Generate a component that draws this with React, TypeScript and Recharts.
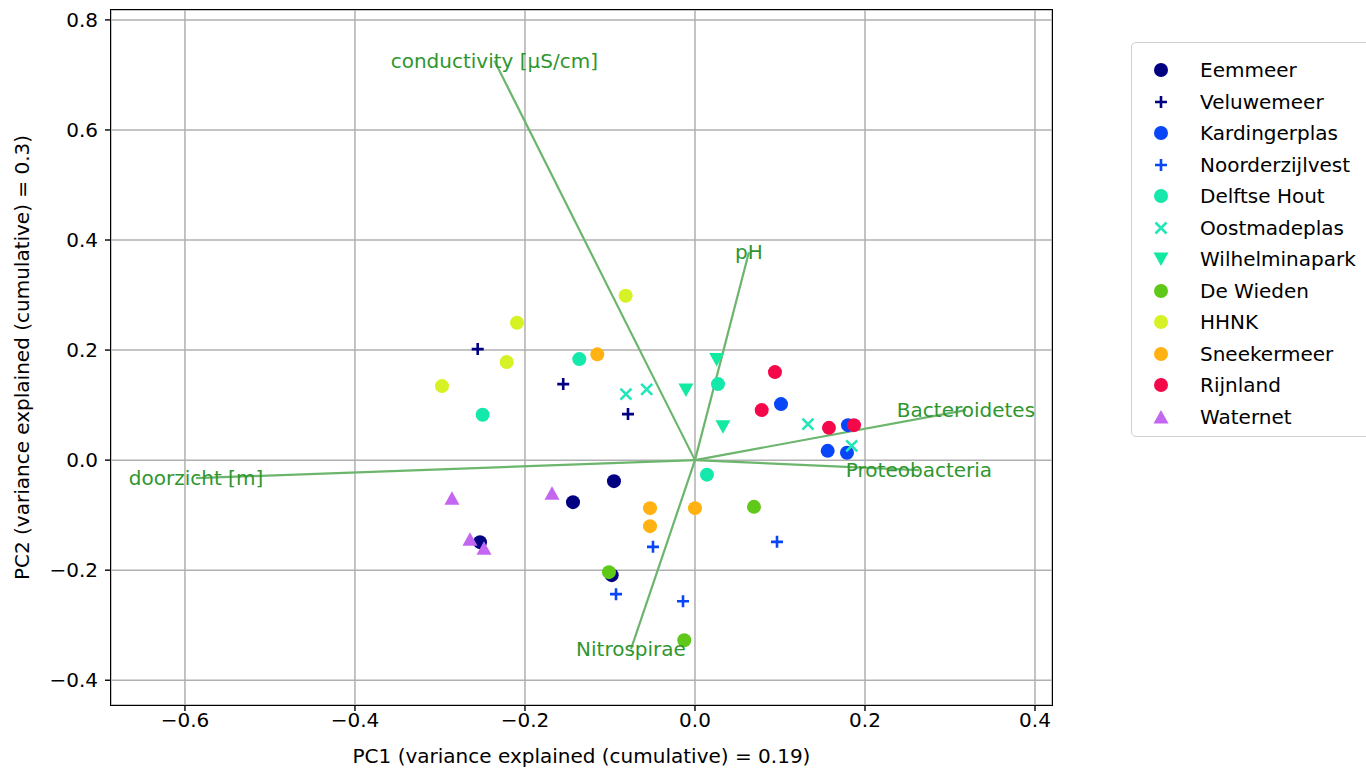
import React from "react";
import {
  ScatterChart,
  Scatter,
  XAxis,
  YAxis,
  CartesianGrid,
  ReferenceLine,
  ReferenceDot,
} from "recharts";

// sample scores per lake [PC1, PC2]
const eemmeer = [[-0.1435, -0.0764], [-0.0953, -0.0382], [-0.2529, -0.1491], [-0.098, -0.209]];
const veluwemeer = [[-0.2556, 0.2018], [-0.155, 0.1382], [-0.0788, 0.0836]];
const kardingerplas = [[0.1012, 0.1018], [0.18, 0.0636], [0.1561, 0.0169], [0.1788, 0.0133]];
const noorderzijlvest = [[-0.0494, -0.1576], [-0.0929, -0.2436], [-0.0141, -0.2564], [0.0965, -0.1485]];
const delftseHout = [[-0.1361, 0.1836], [-0.2498, 0.0824], [0.0271, 0.1382], [0.0141, -0.0264]];
const oostmadeplas = [[-0.0812, 0.12], [-0.0568, 0.1285], [0.1329, 0.0655], [0.1844, 0.026]];
const wilhelminapark = [[-0.0106, 0.1273], [0.0255, 0.1827], [0.0329, 0.0605]];
const deWieden = [[0.0694, -0.0849], [-0.1012, -0.2036], [-0.0126, -0.3273]];
const hhnk = [[-0.0815, 0.2987], [-0.2094, 0.2496], [-0.2215, 0.1782], [-0.2976, 0.1345]];
const sneekermeer = [[-0.1149, 0.1922], [-0.0529, -0.0873], [-0.0529, -0.12], [0.0, -0.0873]];
const rijnland = [[0.0941, 0.16], [0.0785, 0.0909], [0.1576, 0.0587], [0.1871, 0.0636]];
const waternet = [[-0.2859, -0.0691], [-0.1682, -0.06], [-0.2647, -0.1436], [-0.2482, -0.16]];

// loading vectors
const vectorNames = ["conductivity [µS/cm]", "pH", "Bacteroidetes", "Proteobacteria", "doorzicht [m]", "Nitrospirae"];
const vectorX = [-0.236, 0.0635, 0.3188, 0.2635, -0.587, -0.0753];
const vectorY = [0.726, 0.378, 0.0909, -0.0182, -0.0327, -0.3436];

const xTicks = [-0.6, -0.4, -0.2, 0.0, 0.2, 0.4];
const yTicks = [-0.4, -0.2, 0.0, 0.2, 0.4, 0.6, 0.8];

const groups = [
  { name: "Eemmeer", pts: eemmeer, color: "#000080", kind: "o" },
  { name: "Veluwemeer", pts: veluwemeer, color: "#000080", kind: "+" },
  { name: "Kardingerplas", pts: kardingerplas, color: "#0846f8", kind: "o" },
  { name: "Noorderzijlvest", pts: noorderzijlvest, color: "#0846f8", kind: "+" },
  { name: "Delftse Hout", pts: delftseHout, color: "#14e8aa", kind: "o" },
  { name: "Oostmadeplas", pts: oostmadeplas, color: "#22e6b8", kind: "x" },
  { name: "Wilhelminapark", pts: wilhelminapark, color: "#12eaa0", kind: "v" },
  { name: "De Wieden", pts: deWieden, color: "#60c818", kind: "o" },
  { name: "HHNK", pts: hhnk, color: "#d6f224", kind: "o" },
  { name: "Sneekermeer", pts: sneekermeer, color: "#ffb212", kind: "o" },
  { name: "Rijnland", pts: rijnland, color: "#f5084a", kind: "o" },
  { name: "Waternet", pts: waternet, color: "#c467f0", kind: "^" },
];

const GREEN_LINE = "#6cb56c";
const GREEN_TEXT = "#2f962f";

function drawMarker(kind: string, color: string, cx: number, cy: number) {
  if (kind === "o") return <circle cx={cx} cy={cy} r={7} fill={color} />;
  if (kind === "+")
    return (
      <path
        d={`M${cx - 6},${cy}H${cx + 6}M${cx},${cy - 6}V${cy + 6}`}
        stroke={color}
        strokeWidth={2.6}
        fill="none"
      />
    );
  if (kind === "x")
    return (
      <path
        d={`M${cx - 5.5},${cy - 5.5}L${cx + 5.5},${cy + 5.5}M${cx - 5.5},${cy + 5.5}L${cx + 5.5},${cy - 5.5}`}
        stroke={color}
        strokeWidth={2.6}
        fill="none"
      />
    );
  if (kind === "v")
    return <polygon points={`${cx - 7.5},${cy - 6.5} ${cx + 7.5},${cy - 6.5} ${cx},${cy + 7}`} fill={color} />;
  return <polygon points={`${cx - 7.5},${cy + 6.5} ${cx + 7.5},${cy + 6.5} ${cx},${cy - 7}`} fill={color} />;
}

const fmt = (v: number) => v.toFixed(1).replace("-", "\u2212");

export default function App() {
  return (
    <div
      style={{
        position: "absolute",
        left: 0,
        top: 0,
        width: 1366,
        height: 769,
        overflow: "hidden",
        background: "white",
        fontFamily: "'DejaVu Sans', sans-serif",
      }}
    >
      <ScatterChart width={1366} height={769} margin={{ top: 10, right: 314, left: 11, bottom: 4 }}>
        <CartesianGrid stroke="#b0b0b0" strokeWidth={1.5} />
        <XAxis
          type="number"
          dataKey="x"
          domain={[-0.687, 0.42]}
          allowDataOverflow
          ticks={xTicks}
          tickFormatter={fmt}
          height={60}
          axisLine={false}
          tickSize={6}
          tickLine={{ stroke: "#000", strokeWidth: 1.4 }}
          tick={{ fill: "#000", fontSize: 20 }}
          label={{ value: "PC1 (variance explained (cumulative) = 0.19)", position: "insideBottom", offset: 2, fill: "#000", fontSize: 20 }}
        />
        <YAxis
          type="number"
          dataKey="y"
          domain={[-0.445, 0.818]}
          allowDataOverflow
          ticks={yTicks}
          tickFormatter={fmt}
          width={100}
          axisLine={false}
          tickSize={6}
          tickMargin={7}
          tickLine={{ stroke: "#000", strokeWidth: 1.4 }}
          tick={{ fill: "#000", fontSize: 20 }}
          label={{
            value: "PC2 (variance explained (cumulative) = 0.3)",
            angle: -90,
            position: "insideLeft",
            offset: 11,
            fill: "#000",
            fontSize: 20,
            style: { textAnchor: "middle" },
          }}
        />
        {groups.map((g) => (
          <Scatter
            key={g.name}
            name={g.name}
            data={g.pts.map(([x, y]) => ({ x, y }))}
            isAnimationActive={false}
            shape={(p: any) => drawMarker(g.kind, g.color, p.cx, p.cy)}
          />
        ))}
        {vectorNames.map((n, i) => (
          <ReferenceLine
            key={"l" + n}
            segment={[
              { x: 0, y: 0 },
              { x: vectorX[i], y: vectorY[i] },
            ]}
            stroke={GREEN_LINE}
            strokeWidth={2.2}
          />
        ))}
        {vectorNames.map((n, i) => (
          <ReferenceDot
            key={"t" + n}
            x={vectorX[i]}
            y={vectorY[i]}
            r={1}
            shape={(p: any) => (
              <text
                x={p.cx}
                y={p.cy}
                textAnchor="middle"
                dominantBaseline="central"
                fill={GREEN_TEXT}
                fontSize={20}
                fontFamily="'DejaVu Sans', sans-serif"
              >
                {n}
              </text>
            )}
          />
        ))}
      </ScatterChart>
      <div
        style={{
          position: "absolute",
          left: 110,
          top: 9,
          width: 941,
          height: 695,
          border: "1.5px solid #000",
          pointerEvents: "none",
        }}
      />
      <div
        style={{
          position: "absolute",
          left: 1131,
          top: 42,
          width: 260,
          height: 393,
          border: "1.5px solid #d0d0d0",
          borderRadius: 5,
          background: "white",
        }}
      >
        {groups.map((g, i) => (
          <div
            key={g.name}
            style={{ position: "absolute", left: 0, top: 13 + i * 31.5, height: 28, display: "flex", alignItems: "center" }}
          >
            <svg width={60} height={28} style={{ display: "block" }}>
              {drawMarker(g.kind, g.color, 29, 14)}
            </svg>
            <span style={{ marginLeft: 8, fontSize: 20, color: "#000", whiteSpace: "nowrap" }}>{g.name}</span>
          </div>
        ))}
      </div>
    </div>
  );
}
